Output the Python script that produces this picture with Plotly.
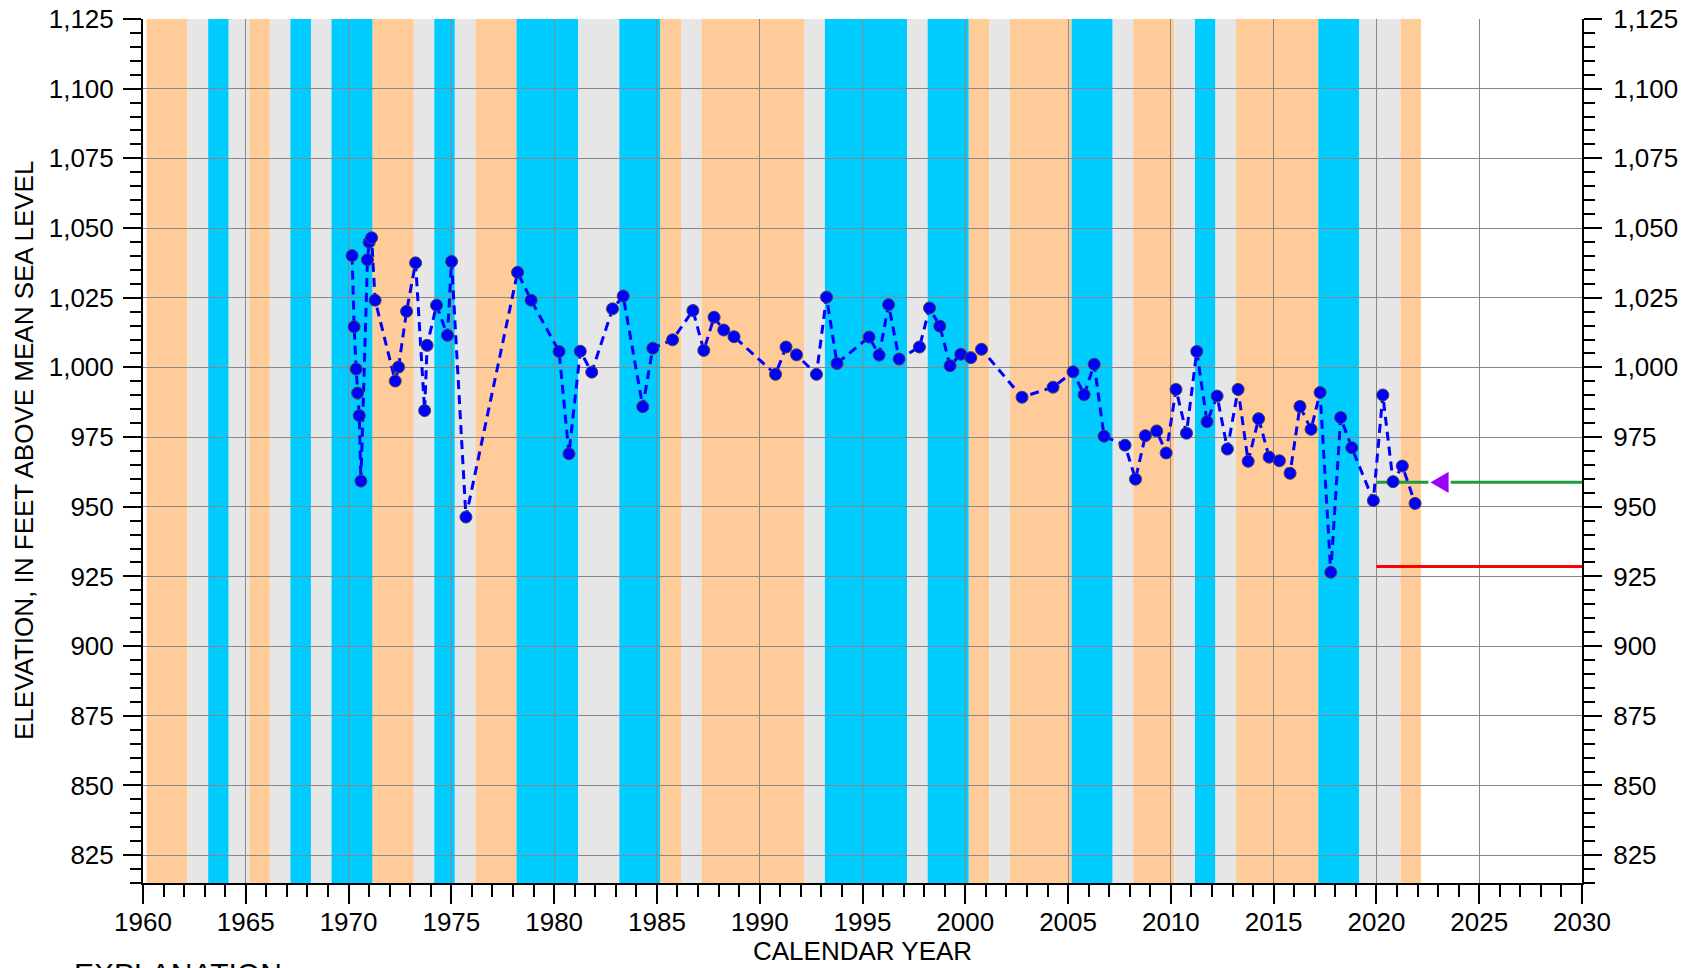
import plotly.graph_objects as go

# Water-level measurements: decimal calendar year and elevation (ft above MSL)
meas_year = [
    1970.17, 1970.27, 1970.37, 1970.44, 1970.52, 1970.60, 1970.92, 1971.00, 1971.12, 1971.29,
    1972.27, 1972.43, 1972.82, 1973.26, 1973.70, 1973.82, 1974.28, 1974.81, 1975.01, 1975.71,
    1978.22, 1978.88, 1980.24, 1980.72, 1981.27, 1981.83, 1982.84, 1983.36, 1984.31, 1984.80,
    1985.76, 1986.75, 1987.28, 1987.78, 1988.25, 1988.75, 1990.77, 1991.28, 1991.79, 1992.76,
    1993.25, 1993.76, 1995.32, 1995.81, 1996.27, 1996.78, 1997.77, 1998.26, 1998.76, 1999.26,
    1999.78, 2000.27, 2000.79, 2002.76, 2004.27, 2005.24, 2005.78, 2006.27, 2006.75, 2007.77,
    2008.28, 2008.76, 2009.31, 2009.77, 2010.25, 2010.76, 2011.26, 2011.76, 2012.25, 2012.75,
    2013.27, 2013.76, 2014.27, 2014.78, 2015.28, 2015.80, 2016.28, 2016.82, 2017.26, 2017.78,
    2018.26, 2018.80, 2019.85, 2020.31, 2020.81, 2021.26, 2021.88,
]
meas_elev = [
    1040.1, 1014.6, 999.4, 990.8, 982.7, 959.2, 1038.6, 1044.9, 1046.5, 1024.1,
    995.1, 1000.1, 1020.1, 1037.5, 984.5, 1007.9, 1022.3, 1011.5, 1038.0, 946.3,
    1034.1, 1024.1, 1005.7, 969.0, 1005.8, 998.3, 1021.0, 1025.6, 985.9, 1006.9,
    1009.9, 1020.4, 1006.1, 1018.0, 1013.4, 1011.0, 997.5, 1007.3, 1004.5, 997.5,
    1025.2, 1001.4, 1010.9, 1004.4, 1022.5, 1003.0, 1007.3, 1021.3, 1014.8, 1000.6,
    1004.7, 1003.5, 1006.5, 989.3, 992.9, 998.4, 990.2, 1001.1, 975.3, 972.1,
    959.9, 975.5, 977.2, 969.3, 992.1, 976.4, 1005.7, 980.5, 989.7, 970.7,
    992.1, 966.3, 981.6, 967.8, 966.5, 962.0, 986.0, 977.8, 991.0, 926.5,
    982.0, 971.2, 952.2, 990.1, 959.0, 964.6, 951.2,
]

# Annual climate class, one entry per calendar year starting in 1960
class_first_year = 1960
year_class = [
    "dry", "dry", "normal", "wet", "normal", "dry", "normal", "wet", "normal", "wet",      # 1960s
    "wet", "dry", "dry", "normal", "wet", "normal", "dry", "dry", "wet", "wet",            # 1970s
    "wet", "normal", "normal", "wet", "wet", "dry", "normal", "dry", "dry", "dry",         # 1980s
    "dry", "dry", "normal", "wet", "wet", "wet", "wet", "normal", "wet", "wet",            # 1990s
    "dry", "normal", "dry", "dry", "dry", "wet", "wet", "normal", "dry", "dry",            # 2000s
    "normal", "wet", "normal", "dry", "dry", "dry", "dry", "wet", "wet", "normal",         # 2010s
    "normal", "dry",                                                                       # 2020s
]

# Reference water levels
green_level = 958.75
red_level = 928.6
levels_start = 2020.0
pointer_year = 2022.53          # tip of the pointer arrow

x_range = [1960, 2030]
y_range = [815, 1125]

class_colors = {"dry": "#FFCC99", "normal": "#E6E6E6", "wet": "#00CCFF"}
class_offset = 0.17

# Pointer arrow size, in axis units (years wide, feet half-height)
pointer_len = 1.03
pointer_half = 4.4

FONT = "Arial, Liberation Sans, sans-serif"

# Background bands: merge consecutive years with the same class
shapes = []
i = 0
while i < len(year_class):
    j = i
    while j + 1 < len(year_class) and year_class[j + 1] == year_class[i]:
        j += 1
    shapes.append(dict(
        type="rect", xref="x", yref="paper",
        x0=class_first_year + i + class_offset,
        x1=class_first_year + j + 1 + class_offset,
        y0=0, y1=1,
        fillcolor=class_colors[year_class[i]],
        line=dict(width=0),
        layer="below",
    ))
    i = j + 1

fig = go.Figure()

fig.add_trace(go.Scatter(
    x=[levels_start, x_range[1]], y=[green_level, green_level],
    mode="lines", line=dict(color="#1E9B3A", width=3),
    hoverinfo="skip", showlegend=False,
))
fig.add_trace(go.Scatter(
    x=[levels_start, x_range[1]], y=[red_level, red_level],
    mode="lines", line=dict(color="#FF0000", width=3),
    hoverinfo="skip", showlegend=False,
))
fig.add_trace(go.Scatter(
    x=meas_year, y=meas_elev,
    mode="lines+markers",
    line=dict(color="#0000FF", width=3, dash="9px,6px"),
    marker=dict(size=12, color="#0000FF", line=dict(color="#444444", width=1)),
    showlegend=False,
))
# Left-pointing arrow head marking the green level
fig.add_trace(go.Scatter(
    x=[pointer_year, pointer_year + pointer_len, pointer_year + pointer_len, pointer_year],
    y=[green_level, green_level + pointer_half, green_level - pointer_half, green_level],
    yaxis="y2", mode="lines", fill="toself", fillcolor="#9B00FF",
    line=dict(color="white", width=2),
    hoverinfo="skip", showlegend=False,
))

axis_font = dict(family=FONT, size=26, color="black")
tick_common = dict(
    ticks="outside", tickwidth=2, tickcolor="black",
    showline=True, linecolor="black", linewidth=2,
    tickfont=axis_font, zeroline=False, automargin=False,
)

fig.update_layout(
    width=1687, height=968,
    margin=dict(l=143, r=105, t=19, b=85),
    paper_bgcolor="white", plot_bgcolor="white",
    font=dict(family=FONT, color="black"),
    shapes=shapes,
    xaxis=dict(
        range=x_range, tick0=1960, dtick=5, ticklen=19,
        showgrid=True, gridcolor="#888888", gridwidth=1,
        minor=dict(tick0=1960, dtick=1, ticks="outside", ticklen=12,
                   tickwidth=2, tickcolor="black", showgrid=False),
        ticklabelstandoff=-4,
        **tick_common,
    ),
    yaxis=dict(
        range=y_range, tick0=0, dtick=25, ticklen=18, tickformat=",d",
        showgrid=True, gridcolor="#888888", gridwidth=1,
        minor=dict(dtick=5, ticks="outside", ticklen=11,
                   tickwidth=2, tickcolor="black", showgrid=False),
        ticklabelstandoff=4,
        **tick_common,
    ),
    yaxis2=dict(
        range=y_range, tick0=0, dtick=25, ticklen=18, tickformat=",d",
        overlaying="y", side="right", anchor="x", showgrid=False,
        minor=dict(dtick=5, ticks="outside", ticklen=11,
                   tickwidth=2, tickcolor="black", showgrid=False),
        ticklabelstandoff=6,
        **tick_common,
    ),
    annotations=[
        dict(text="ELEVATION, IN FEET ABOVE MEAN SEA LEVEL", textangle=-90,
             xref="paper", yref="paper", x=0, y=0.5, xshift=-119,
             xanchor="center", yanchor="middle", showarrow=False,
             font=dict(family=FONT, size=26, color="black")),
        dict(text="CALENDAR YEAR",
             xref="paper", yref="paper", x=0.5, y=0, yshift=-68,
             xanchor="center", yanchor="middle", showarrow=False,
             font=dict(family=FONT, size=26, color="black")),
        dict(text="EXPLANATION",
             xref="paper", yref="paper", x=0, y=0, xshift=-71, yshift=-72,
             xanchor="left", yanchor="top", showarrow=False,
             font=dict(family=FONT, size=30, color="black")),
    ],
)

fig.write_html("out.html")
